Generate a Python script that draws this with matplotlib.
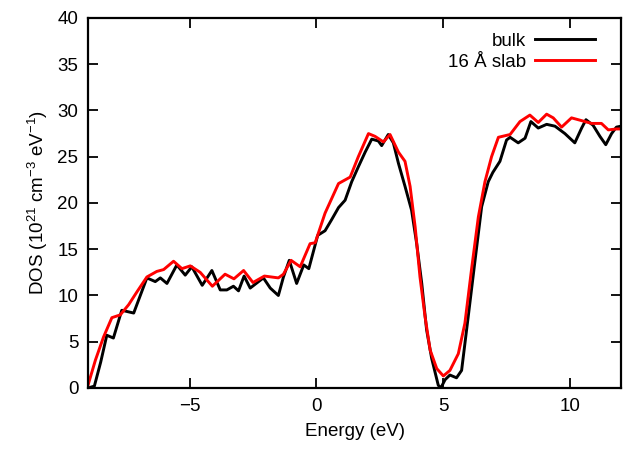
import matplotlib
matplotlib.use("Agg")
import matplotlib.pyplot as plt

plt.rcParams['font.family'] = ['Liberation Sans', 'DejaVu Sans']
plt.rcParams['mathtext.default'] = 'regular'

bulk_x = [-9.0, -8.75, -8.5, -8.26, -8.0, -7.67, -7.2, -6.68, -6.35, -6.15, -5.89, -5.5, -5.17,
          -4.91, -4.5, -4.12, -3.79, -3.53, -3.27, -3.07, -2.85, -2.61, -2.09, -1.82, -1.5, -1.3,
          -1.07, -0.78, -0.5, -0.3, 0.05, 0.34, 0.6, 0.87, 1.13, 1.39, 1.65, 1.92, 2.18, 2.44,
          2.57, 2.83, 3.03, 3.23, 3.49, 3.75, 3.95, 4.15, 4.34, 4.54, 4.8, 4.9, 5.07, 5.26, 5.52,
          5.72, 5.98, 6.25, 6.51, 6.77, 6.95, 7.23, 7.49, 7.63, 7.95, 8.22, 8.45, 8.74, 9.07, 9.4,
          9.79, 10.18, 10.45, 10.62, 10.9, 11.17, 11.4, 11.63, 11.82, 12.0]
bulk_y = [0.0, 0.2, 2.8, 5.7, 5.4, 8.4, 8.1, 11.9, 11.5, 11.9, 11.3, 13.3, 12.2,
          13.1, 11.1, 12.7, 10.6, 10.6, 11.0, 10.5, 12.1, 10.8, 11.9, 10.8, 10.0, 12.0,
          13.8, 11.3, 13.3, 12.9, 16.5, 17.0, 18.2, 19.5, 20.3, 22.3, 23.9, 25.5, 26.9, 26.7,
          26.2, 27.4, 26.5, 24.3, 21.8, 19.2, 15.6, 11.3, 6.3, 3.2, 0.3, 0.0, 0.9, 1.4, 1.1,
          1.9, 7.7, 13.8, 19.6, 22.3, 23.3, 24.5, 26.8, 27.1, 26.5, 27.0, 28.8, 28.1, 28.5, 28.3,
          27.5, 26.5, 28.1, 29.0, 28.4, 27.2, 26.3, 27.5, 28.2, 28.3]

slab_x = [-9.0, -8.71, -8.39, -8.06, -7.73, -7.4, -7.07, -6.68, -6.29, -6.02, -5.63, -5.3, -4.97,
          -4.58, -4.1, -3.6, -3.25, -2.87, -2.5, -2.05, -1.5, -1.3, -1.0, -0.64, -0.25, -0.05,
          0.34, 0.87, 1.33, 1.65, 2.05, 2.31, 2.64, 2.9, 3.23, 3.49, 3.69, 3.89, 4.08, 4.28,
          4.48, 4.74, 5.0, 5.26, 5.59, 5.85, 6.11, 6.38, 6.64, 6.9, 7.17, 7.63, 8.02, 8.41,
          8.74, 9.07, 9.33, 9.66, 10.05, 10.45, 10.84, 11.23, 11.5, 11.82, 12.0]
slab_y = [0.3, 3.0, 5.5, 7.6, 7.9, 9.0, 10.4, 12.0, 12.6, 12.8, 13.7, 12.9, 13.2,
          12.5, 11.0, 12.3, 11.8, 12.7, 11.4, 12.1, 11.9, 12.3, 13.8, 13.1, 15.6, 15.7,
          18.9, 22.1, 22.8, 25.0, 27.5, 27.2, 26.6, 27.4, 25.5, 24.5, 21.8, 17.4, 12.0, 7.7,
          4.1, 2.1, 1.3, 1.9, 3.7, 7.0, 12.8, 18.5, 22.3, 25.0, 27.1, 27.4, 28.8, 29.5,
          28.7, 29.6, 29.2, 28.2, 29.2, 28.9, 28.6, 28.6, 27.9, 28.0, 28.0]

xticks = [-5, 0, 5, 10]
xticklabels = ['\u22125', '0', '5', '10']
yticks = [0, 5, 10, 15, 20, 25, 30, 35, 40]

fig = plt.figure(figsize=(6.26, 4.49), dpi=100)
ax = fig.add_axes([0.1406, 0.1359, 0.8514, 0.8241])

ax.plot(bulk_x, bulk_y, color='black', lw=2.1, label='bulk', solid_joinstyle='round')
ax.plot(slab_x, slab_y, color='#ff0000', lw=2.1, label='16 \u00c5 slab', solid_joinstyle='round')

ax.set_xlim(-9, 12)
ax.set_ylim(0, 40)
ax.set_xticks(xticks)
ax.set_xticklabels(xticklabels)
ax.set_yticks(yticks)
ax.tick_params(direction='in', length=7, width=1.3, top=True, right=True, labelsize=13.5, pad=7)
for s in ax.spines.values():
    s.set_linewidth(1.6)

ax.set_xlabel('Energy (eV)', fontsize=13.5, labelpad=6)
ax.set_ylabel(r'DOS (10$^{21}$ cm$^{-3}$ eV$^{-1}$)', fontsize=13.5, labelpad=5)

leg = ax.legend(loc='upper right', frameon=False, markerfirst=False, fontsize=13.5,
                handlelength=3.2, handletextpad=0.45, labelspacing=0.2,
                borderaxespad=0.3, bbox_to_anchor=(0.975, 0.995))
for t in leg.get_texts():
    t.set_ha('right')

fig.savefig('out.png', dpi=100)
